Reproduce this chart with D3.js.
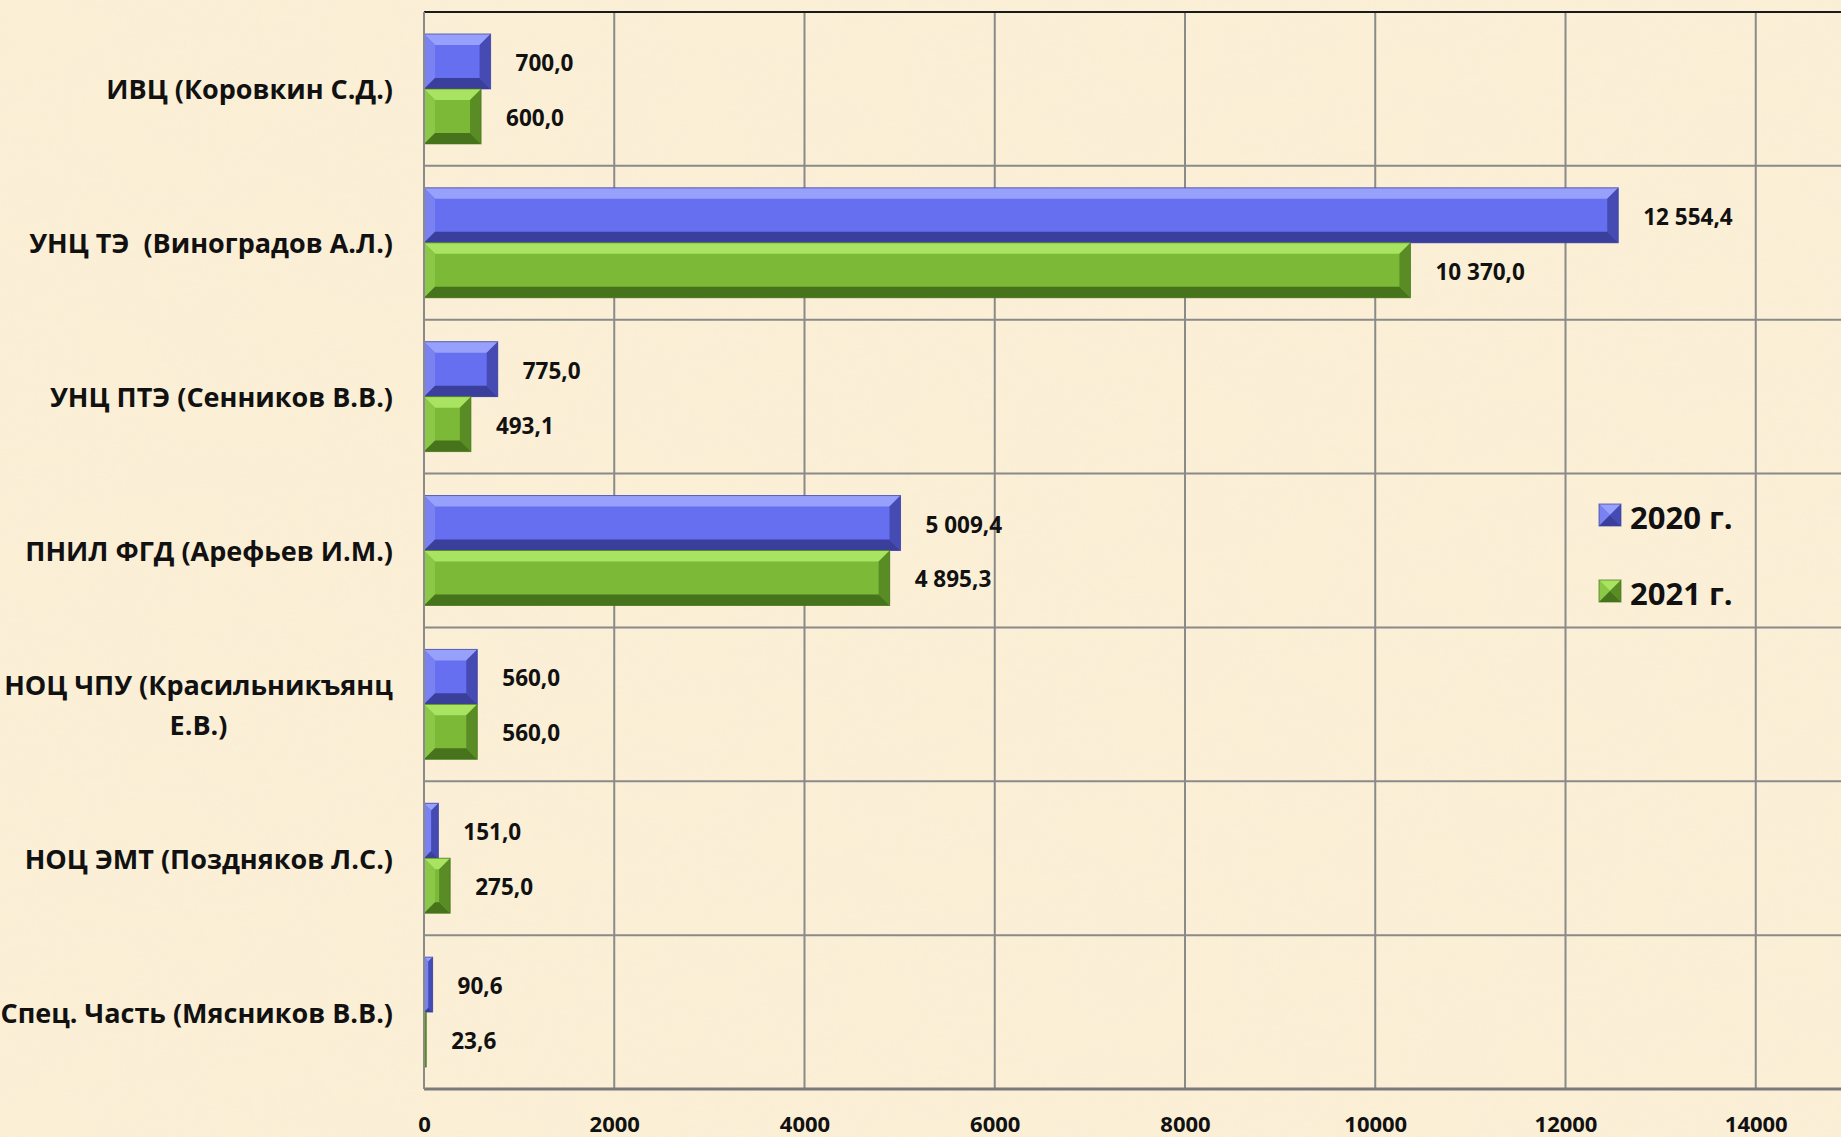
<!DOCTYPE html>
<html>
<head>
<meta charset="utf-8">
<script src="https://cdnjs.cloudflare.com/ajax/libs/d3/7.8.5/d3.min.js"></script>
<style>
  html, body { margin: 0; padding: 0; background: #faeed6; overflow: hidden; }
  text { font-family: "Open Sans", "DejaVu Sans", sans-serif; font-weight: 700; fill: #111; }
</style>
</head>
<body>
<div id="chart"></div>
<script>
// категории и значения (тыс. руб.)
var categories = [
    "ИВЦ (Коровкин С.Д.)",
    "УНЦ ТЭ  (Виноградов А.Л.)",
    "УНЦ ПТЭ (Сенников В.В.)",
    "ПНИЛ ФГД (Арефьев И.М.)",
    "НОЦ ЧПУ (Красильникъянц\nЕ.В.)",
    "НОЦ ЭМТ (Поздняков Л.С.)",
    "Спец. Часть (Мясников В.В.)"
];
var series = ["2020 г.", "2021 г."];
var values2020 = [700.0, 12554.4, 775.0, 5009.4, 560.0, 151.0, 90.6];
var values2021 = [600.0, 10370.0, 493.1, 4895.3, 560.0, 275.0, 23.6];
var xTicks = [0, 2000, 4000, 6000, 8000, 10000, 12000, 14000];

var W = 1841, H = 1137;
var plot = { left: 424, top: 12, bottom: 1089, right: 1946 };

var colors = {
    "2020 г.": { main: "#666ff0", light: "#97a0fa", side: "#7a82f2", dark: "#3a3f9c", edge: "#454bb3" },
    "2021 г.": { main: "#7bb936", light: "#a8e462", side: "#8cc848", dark: "#46731b", edge: "#598c25" }
};

var ru = d3.formatLocale({ decimal: ",", thousands: " ", grouping: [3], currency: ["", ""] });
var fmtVal = ru.format(",.1f");

var svg = d3.select("#chart").append("svg")
    .attr("width", W)
    .attr("height", H);

// фон "пергамент"
var defs = svg.append("defs");
var f = defs.append("filter").attr("id", "paper").attr("x", 0).attr("y", 0).attr("width", "100%").attr("height", "100%");
f.append("feTurbulence").attr("type", "fractalNoise").attr("baseFrequency", "0.012 0.02").attr("numOctaves", 3).attr("seed", 4);
f.append("feColorMatrix").attr("type", "matrix")
    .attr("values", "0 0 0 0 0.93  0 0 0 0 0.85  0 0 0 0 0.68  0 0 0 0.55 -0.12");
svg.append("rect").attr("width", W).attr("height", H).attr("fill", "#fbefd6");
svg.append("rect").attr("width", W).attr("height", H).attr("filter", "url(#paper)").attr("opacity", 0.55);

var x = d3.scaleLinear().domain([0, 16000]).range([plot.left, plot.right]);
var y0 = d3.scaleBand().domain(categories).range([plot.top, plot.bottom]);
var y1 = d3.scaleBand().domain(series).range([0, y0.bandwidth()]).paddingOuter(0.4);

// сетка
var g = svg.append("g");
g.selectAll("line.v").data(x.ticks(8)).enter().append("line")
    .attr("class", "v")
    .attr("x1", function(d) { return x(d); })
    .attr("x2", function(d) { return x(d); })
    .attr("y1", plot.top).attr("y2", plot.bottom)
    .attr("stroke", "#8a8a8a").attr("stroke-width", 2);

g.selectAll("line.h").data(categories.slice(1)).enter().append("line")
    .attr("class", "h")
    .attr("x1", plot.left).attr("x2", W)
    .attr("y1", function(d) { return y0(d); })
    .attr("y2", function(d) { return y0(d); })
    .attr("stroke", "#8a8a8a").attr("stroke-width", 2);

g.append("line").attr("x1", plot.left).attr("x2", W).attr("y1", plot.top).attr("y2", plot.top)
    .attr("stroke", "#1a1a1a").attr("stroke-width", 2);
g.append("line").attr("x1", plot.left).attr("x2", W).attr("y1", plot.bottom).attr("y2", plot.bottom)
    .attr("stroke", "#7a7a7a").attr("stroke-width", 3);

// ось X
var xAxis = d3.axisBottom(x).tickValues(xTicks).tickFormat(d3.format("d")).tickSize(0).tickPadding(0);
var ax = svg.append("g")
    .attr("transform", "translate(0," + plot.bottom + ")")
    .call(xAxis);
ax.select(".domain").remove();
ax.selectAll("text")
    .attr("y", 35)
    .attr("dy", "0.35em")
    .style("font-size", "22px")
    .style("font-family", "\"Open Sans\", sans-serif")
    .style("font-weight", 700)
    .attr("fill", "#111");

// скошенный прямоугольник
function bevelBar(sel, x0, yA, x1, yB, c, bev) {
    var w = x1 - x0, h = yB - yA;
    if (w <= 0.3) return;
    var b = Math.min(bev, w / 2, h / 2);
    sel.append("rect").attr("x", x0).attr("y", yA).attr("width", w).attr("height", h).attr("fill", c.main);
    var poly = function(pts, fill) {
        sel.append("polygon").attr("points", pts.map(function(p) { return p.join(","); }).join(" ")).attr("fill", fill);
    };
    poly([[x0, yA], [x1, yA], [x1 - b, yA + b], [x0 + b, yA + b]], c.light);
    poly([[x0, yA], [x0 + b, yA + b], [x0 + b, yB - b], [x0, yB]], c.side);
    poly([[x1, yA], [x1, yB], [x1 - b, yB - b], [x1 - b, yA + b]], c.edge);
    poly([[x0, yB], [x1, yB], [x1 - b, yB - b], [x0 + b, yB - b]], c.dark);
    sel.append("rect").attr("x", x0).attr("y", yA).attr("width", w).attr("height", h)
        .attr("fill", "none").attr("stroke", c.dark).attr("stroke-width", 1).attr("stroke-opacity", 0.7);
}

var rows = categories.map(function(c, i) {
    return { cat: c, vals: [{ s: series[0], v: values2020[i] }, { s: series[1], v: values2021[i] }] };
});

var bars = svg.append("g");
rows.forEach(function(r) {
    r.vals.forEach(function(d) {
        var top = y0(r.cat) + y1(d.s);
        bevelBar(bars, x(0), top, x(d.v), top + y1.bandwidth(), colors[d.s], 11);
        bars.append("text")
            .attr("x", x(d.v) + 25)
            .attr("y", top + y1.bandwidth() / 2 + 1)
            .attr("dominant-baseline", "central")
            .style("font-size", "22.5px")
            .text(fmtVal(d.v));
    });
});

// левая ось
svg.append("line").attr("x1", plot.left).attr("x2", plot.left).attr("y1", plot.top).attr("y2", plot.bottom)
    .attr("stroke", "#8a8a8a").attr("stroke-width", 2);

// подписи категорий
var labelRight = plot.left - 31;
categories.forEach(function(c) {
    var lines = c.split("\n");
    var cy = y0(c) + y0.bandwidth() / 2;
    var t = svg.append("text")
        .attr("text-anchor", "middle")
        .style("font-size", "27px")
        .style("white-space", "pre");
    lines.forEach(function(l, i) {
        t.append("tspan")
            .attr("x", 0)
            .attr("y", cy + (i - (lines.length - 1) / 2) * 40)
            .attr("dominant-baseline", "central")
            .text(l);
    });
    var w = t.node().getBBox().width;
    t.selectAll("tspan").attr("x", labelRight - w / 2);
});

// легенда
var legend = svg.append("g");
series.forEach(function(s, i) {
    var cy = 515 + i * 76;
    bevelBar(legend, 1599, cy - 11, 1621, cy + 11, colors[s], 11);
    legend.append("text")
        .attr("x", 1630)
        .attr("y", cy + 2)
        .attr("dominant-baseline", "central")
        .style("font-size", "31px")
        .text(s);
});
</script>
</body>
</html>
